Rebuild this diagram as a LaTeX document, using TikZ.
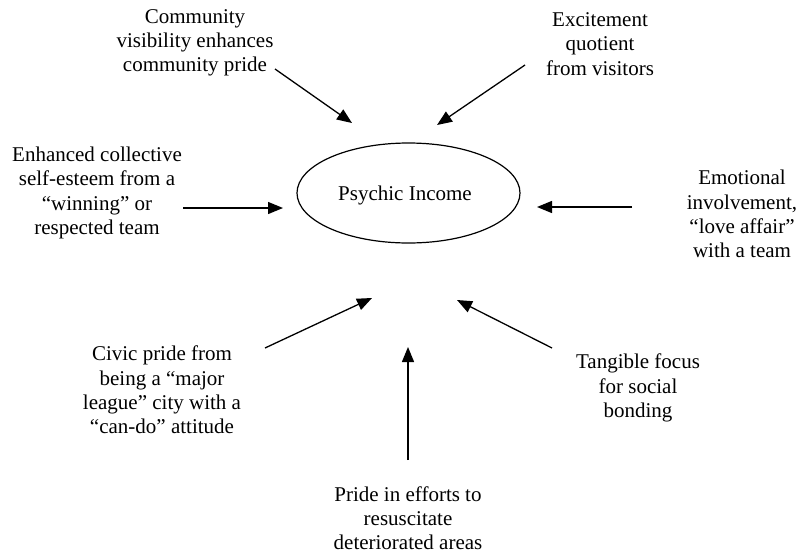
\documentclass[tikz,border=0pt]{standalone}
\usepackage{fontspec}
\setmainfont{Liberation Serif}[Ligatures=TeX]
\usetikzlibrary{arrows.meta,shapes.geometric}
\begin{document}
\begin{tikzpicture}[x=1pt,y=-1pt,
  lbl/.style={align=center,inner sep=0pt,font=\fontsize{21}{24.2}\selectfont},
  arr/.style={line width=1.3pt,-{Triangle[length=15pt,width=12pt]}},
  oval/.style={ellipse,draw,line width=1.2pt,minimum width=223pt,minimum height=100pt,inner sep=0pt}]
\useasboundingbox (0,0) rectangle (800,554);
\node[oval] (pi) at (408.5,193) {};
\node[lbl] (pit) at (405,195) {Psychic Income};
\node[lbl] (t1) at (195,43) {Community\\visibility enhances\\community pride};
\node[lbl] (t2) at (600,44) {Excitement\\quotient\\from visitors};
\node[lbl] (t3) at (97,193) {Enhanced collective\\self-esteem from a\\“winning” or\\respected team};
\node[lbl] (t4) at (742,214) {Emotional\\involvement,\\“love affair”\\with a team};
\node[lbl] (t5) at (162,390) {Civic pride from\\being a “major\\league” city with a\\“can-do” attitude};
\node[lbl] (t6) at (638,388) {Tangible focus\\for social\\bonding};
\node[lbl] (t7) at (408,518) {Pride in efforts to\\resuscitate\\deteriorated areas};
\coordinate (s1) at (275,69);  \coordinate (e1) at (352,123);
\coordinate (s2) at (525,65);  \coordinate (e2) at (437,125);
\coordinate (s3) at (183,208); \coordinate (e3) at (283,208);
\coordinate (s4) at (632,207); \coordinate (e4) at (537,207);
\coordinate (s5) at (265,348); \coordinate (e5) at (372,298);
\coordinate (s6) at (408,460); \coordinate (e6) at (408,347);
\coordinate (s7) at (552,348); \coordinate (e7) at (457,300);
\foreach \i in {1,...,7} {\draw[arr] (s\i) -- (e\i);}
\end{tikzpicture}
\end{document}
